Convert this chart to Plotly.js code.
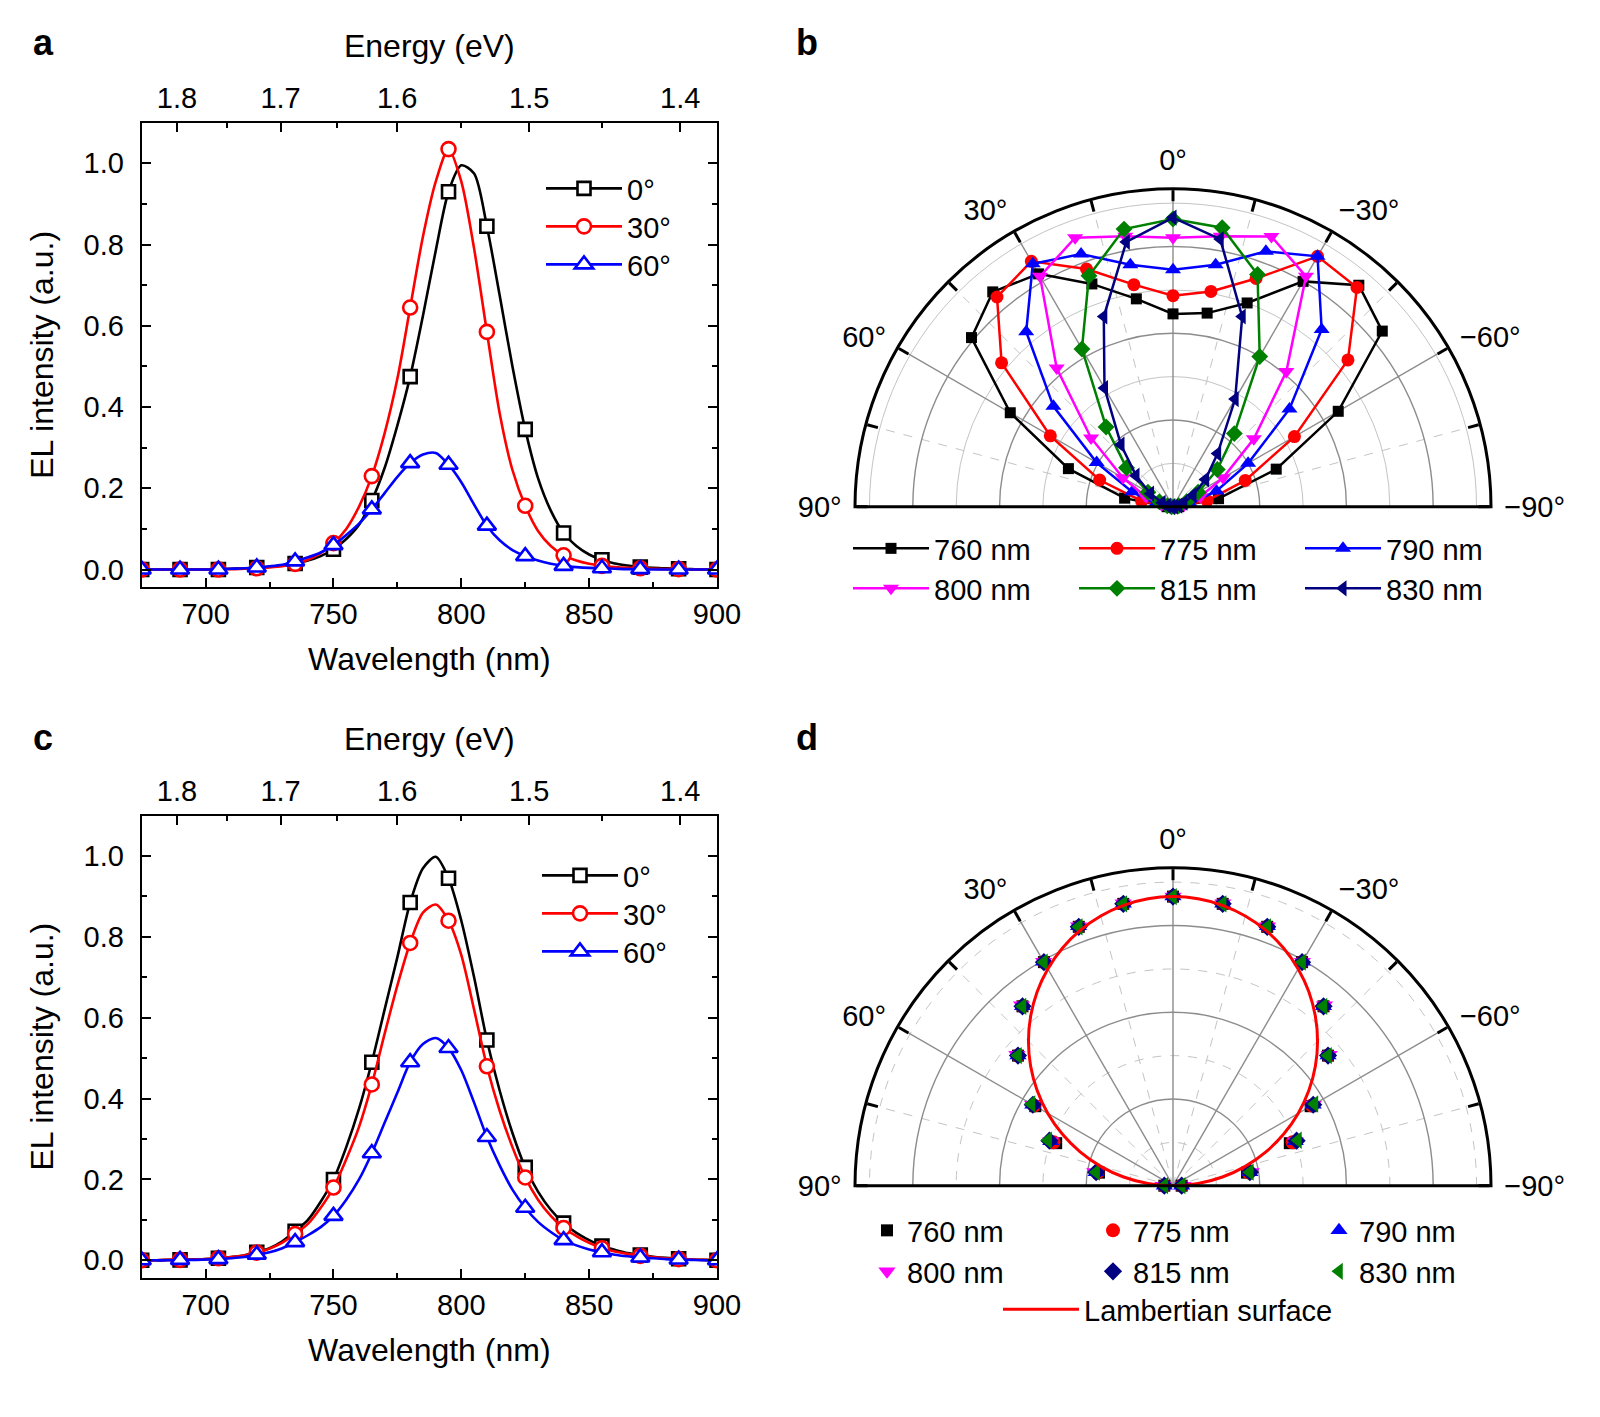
<!DOCTYPE html>
<html><head><meta charset="utf-8">
<script src="https://cdn.plot.ly/plotly-3.0.1.min.js"></script>
<style>html,body{margin:0;padding:0;background:#fff;}#chart{width:1600px;height:1417px;}</style>
</head><body><div id="chart"></div>
<script>
// ---------------- DATA ----------------
const wlLine = [675,680,685,690,695,700,705,710,715,720,725,730,735,740,745,750,755,760,765,770,775,780,785,790,795,800,805,810,815,820,825,830,835,840,845,850,855,860,865,870,875,880,885,890,895,900];
const wlMark = [675,690,705,720,735,750,765,780,795,810,825,840,855,870,885,900];
const angleNames = ['0°','30°','60°'];

// panel a spectra (continuous curves, 5 nm)
const a0Line  = [0,0,0,0,0,0,0.001,0.002,0.003,0.005,0.007,0.01, 0.015,0.022,0.033,0.05,0.075,0.11,0.17,0.25,0.355,0.475,0.625,0.785, 0.93,0.995,0.975,0.845,0.675,0.5,0.345,0.225,0.145,0.09,0.058,0.037, 0.024,0.015,0.01,0.006,0.004,0.003,0.002,0.001,0,0];
const a30Line = [0,0,0,0,0,0,0.001,0.001,0.002,0.003,0.005,0.008, 0.014,0.024,0.04,0.065,0.1,0.155,0.23,0.335,0.47,0.645,0.82,0.955, 1.035,0.955,0.79,0.585,0.385,0.245,0.157,0.095,0.058,0.035,0.022,0.014, 0.009,0.006,0.004,0.003,0.002,0.001,0.001,0,0,0];
const a60Line = [0,0,0,0,0,0,0.001,0.002,0.003,0.005,0.008,0.012, 0.02,0.03,0.042,0.06,0.085,0.113,0.148,0.188,0.228,0.262,0.283,0.287, 0.258,0.215,0.16,0.108,0.072,0.048,0.033,0.022,0.014,0.009,0.006,0.004, 0.003,0.002,0.001,0.001,0,0,0,0,0,0];
// panel a markers (15 nm)
const a0Mark  = [0,0,0,0.005,0.015,0.05,0.17,0.475,0.93,0.845,0.345,0.09,0.024,0.006,0.002,0];
const a30Mark = [0,0,0,0.003,0.014,0.065,0.23,0.645,1.035,0.585,0.157,0.035,0.009,0.003,0.001,0];
const a60Mark = [0,0,0,0.005,0.02,0.06,0.148,0.262,0.258,0.108,0.033,0.009,0.003,0.001,0,0];

// panel c spectra
const c0Line  = [0,0,0.001,0.001,0.002,0.003,0.005,0.008,0.012,0.02,0.03,0.047, 0.072,0.1,0.145,0.2,0.28,0.375,0.49,0.62,0.75,0.885,0.97,0.998, 0.945,0.84,0.7,0.545,0.42,0.315,0.23,0.17,0.125,0.092,0.068,0.05, 0.035,0.026,0.018,0.013,0.009,0.006,0.004,0.002,0.001,0];
const c30Line = [0,0,0.001,0.001,0.002,0.003,0.005,0.008,0.012,0.019,0.029,0.044, 0.065,0.09,0.13,0.18,0.25,0.33,0.435,0.56,0.68,0.785,0.86,0.88, 0.84,0.755,0.62,0.48,0.37,0.28,0.205,0.15,0.11,0.08,0.06,0.043, 0.03,0.022,0.016,0.011,0.008,0.005,0.003,0.002,0.001,0];
const c60Line = [0,0,0,0.001,0.001,0.002,0.003,0.005,0.008,0.014,0.02,0.03, 0.045,0.062,0.082,0.11,0.15,0.2,0.265,0.34,0.415,0.49,0.535,0.55, 0.525,0.47,0.39,0.305,0.235,0.175,0.13,0.095,0.07,0.05,0.037,0.027, 0.02,0.014,0.01,0.007,0.005,0.003,0.002,0.001,0,0];
const c0Mark  = [0,0.001,0.005,0.02,0.072,0.2,0.49,0.885,0.945,0.545,0.23,0.092,0.035,0.013,0.004,0];
const c30Mark = [0,0.001,0.005,0.019,0.065,0.18,0.435,0.785,0.84,0.48,0.205,0.08,0.03,0.011,0.003,0];
const c60Mark = [0,0.001,0.003,0.014,0.045,0.11,0.265,0.49,0.525,0.305,0.13,0.05,0.02,0.007,0.002,0];

// top axis energies (eV)
const energyTicks = [1.8,1.7,1.6,1.5,1.4];
const energyMinor = [1.75,1.65,1.55,1.45];

// polar panels: emission angle (deg) and normalized intensity
const polarAngles = [-90,-80,-70,-60,-50,-40,-30,-20,-10,0,10,20,30,40,50,60,70,80,90];
const wlNames = ['760 nm','775 nm','790 nm','800 nm','815 nm','830 nm'];
const b760 = [0.02,0.16,0.38,0.66,0.945,1.0,0.90,0.75,0.68,0.667,0.73,0.82,0.93,0.97,0.91,0.65,0.385,0.17,0.02];
const b775 = [0.01,0.12,0.266,0.485,0.79,0.99,1.0,0.84,0.756,0.73,0.78,0.875,0.98,0.947,0.774,0.49,0.27,0.11,0.01];
const b790 = [0.01,0.06,0.16,0.30,0.526,0.80,1.0,0.94,0.85,0.82,0.85,0.93,0.97,0.79,0.54,0.305,0.15,0.06,0.01];
const b800 = [0.01,0.04,0.10,0.20,0.365,0.61,0.92,0.995,0.95,0.93,0.95,0.99,0.92,0.626,0.37,0.20,0.10,0.04,0.01];
const b815 = [0.005,0.02,0.05,0.10,0.20,0.33,0.60,0.855,0.98,0.995,0.975,0.85,0.63,0.36,0.21,0.10,0.05,0.02,0.005];
const b830 = [0.005,0.02,0.04,0.08,0.147,0.24,0.43,0.70,0.94,1.0,0.93,0.70,0.474,0.28,0.167,0.09,0.04,0.02,0.005];

const d760 = [0.03,0.26,0.43,0.55,0.70,0.81,0.893,0.953,0.99,1.0,0.99,0.953,0.893,0.81,0.70,0.55,0.43,0.26,0.03];
const d775 = [0.03,0.265,0.44,0.555,0.70,0.81,0.893,0.953,0.99,1.0,0.99,0.953,0.893,0.81,0.70,0.555,0.44,0.265,0.03];
const d790 = [0.03,0.27,0.45,0.56,0.70,0.81,0.895,0.955,0.99,1.0,0.99,0.955,0.895,0.81,0.70,0.56,0.45,0.27,0.03];
const d800 = [0.035,0.275,0.45,0.56,0.705,0.815,0.895,0.955,0.992,1.0,0.992,0.955,0.895,0.815,0.705,0.56,0.45,0.275,0.035];
const d815 = [0.03,0.27,0.455,0.56,0.70,0.81,0.893,0.953,0.99,1.0,0.99,0.953,0.893,0.81,0.70,0.56,0.455,0.27,0.03];
const d830 = [0.03,0.27,0.46,0.565,0.70,0.81,0.893,0.953,0.99,1.0,0.99,0.953,0.893,0.81,0.70,0.565,0.46,0.27,0.03];
const lambTheta = [-90,-85,-80,-75,-70,-65,-60,-55,-50,-45,-40,-35,-30,-25,-20,-15,-10,-5,0,5,10,15,20,25,30,35,40,45,50,55,60,65,70,75,80,85,90];
const lambR = [0,0.0872,0.1736,0.2588,0.342,0.4226,0.5,0.5736,0.6428,0.7071,0.766,0.8192,0.866,0.9063,0.9397,0.9659,0.9848,0.9962,1,0.9962,0.9848,0.9659,0.9397,0.9063,0.866,0.8192,0.766,0.7071,0.6428,0.5736,0.5,0.4226,0.342,0.2588,0.1736,0.0872,0];

const angAllTicks = [-90,-75,-60,-45,-30,-15,0,15,30,45,60,75,90];
const angLabelVals = [-90,-60,-30,0,30,60,90];
const angLabelText = ['\u221290°','\u221260°','\u221230°','0°','30°','60°','90°'];

// ---------------- STYLE ----------------
const W = 1600, H = 1417;
const px = v => v / W, py = v => (H - v) / H;
const FONT = 'Liberation Sans, Arial, Helvetica, sans-serif';
const HC = 1239.84;
const tickFont = {family: FONT, size: 29, color: '#000'};
const titleFont = {family: FONT, size: 32, color: '#000'};

const specColors = ['#000000', '#ff0000', '#0000ff'];
const specSymbols = ['square', 'circle', 'triangle-up'];
const specSizes = [13, 14, 16];

const traces = [];
function addSpectra(xa, ya, lines, marks, legendIds) {
  for (let i = 0; i < 3; i++) {
    traces.push({x: wlLine, y: lines[i], xaxis: xa, yaxis: ya, mode: 'lines', showlegend: false, hoverinfo: 'skip',
      line: {color: specColors[i], width: 2.6, shape: 'spline', smoothing: 0.8}});
    traces.push({x: wlMark, y: marks[i], xaxis: xa, yaxis: ya, mode: 'markers', showlegend: false, hoverinfo: 'skip',
      marker: {symbol: specSymbols[i], size: specSizes[i], color: '#ffffff', line: {color: specColors[i], width: 2.6}}});
  }
  for (let i = 0; i < 3; i++) {
    traces.push({x: [null], y: [null], xaxis: xa, yaxis: ya, mode: 'lines+markers', name: angleNames[i], legend: legendIds[i],
      line: {color: specColors[i], width: 2.6},
      marker: {symbol: specSymbols[i], size: specSizes[i], color: '#ffffff', line: {color: specColors[i], width: 2.6}}});
  }
}
addSpectra('x', 'y', [a0Line, a30Line, a60Line], [a0Mark, a30Mark, a60Mark], ['legend', 'legend2', 'legend3']);
addSpectra('x3', 'y3', [c0Line, c30Line, c60Line], [c0Mark, c30Mark, c60Mark], ['legend4', 'legend5', 'legend6']);
traces.push({x: [null], y: [null], xaxis: 'x2', yaxis: 'y', showlegend: false, hoverinfo: 'skip'});
traces.push({x: [null], y: [null], xaxis: 'x4', yaxis: 'y3', showlegend: false, hoverinfo: 'skip'});

// polar grid layers need a trace each
['polar', 'polar2', 'polar4', 'polar5'].forEach(s => traces.push({type: 'scatterpolar', subplot: s, r: [0], theta: [0],
  mode: 'markers', marker: {opacity: 0, size: 1}, showlegend: false, hoverinfo: 'skip'}));

const bSeries = [b760, b775, b790, b800, b815, b830];
const bColors = ['#000000', '#ff0000', '#0000ff', '#ff00ff', '#008000', '#000080'];
const bSymbols = ['square', 'circle', 'triangle-up', 'triangle-down', 'diamond', 'triangle-left'];
const bSizes = [11, 13, 14, 14, 13, 14];
bSeries.forEach((r, i) => traces.push({type: 'scatterpolar', subplot: 'polar3', r: r, theta: polarAngles,
  mode: 'lines+markers', name: wlNames[i], legend: i < 3 ? 'legend7' : 'legend8', hoverinfo: 'skip',
  line: {color: bColors[i], width: 2.5}, marker: {symbol: bSymbols[i], size: bSizes[i], color: bColors[i]}}));

const dSeries = [d760, d775, d790, d800, d815, d830];
const dColors = ['#000000', '#ff0000', '#0000ff', '#ff00ff', '#000080', '#008000'];
dSeries.forEach((r, i) => traces.push({type: 'scatterpolar', subplot: 'polar6', r: r, theta: polarAngles,
  mode: 'markers', name: wlNames[i], legend: i < 3 ? 'legend9' : 'legend10', hoverinfo: 'skip',
  marker: {symbol: bSymbols[i], size: bSizes[i] + 1, color: dColors[i]}}));
traces.push({type: 'scatterpolar', subplot: 'polar6', r: lambR, theta: lambTheta, mode: 'lines',
  name: 'Lambertian surface', legend: 'legend11', hoverinfo: 'skip', line: {color: '#ff0000', width: 3, shape: 'spline'}});

// ---------------- LAYOUT ----------------
const axLine = {showline: true, linewidth: 2, linecolor: '#000', showgrid: false, zeroline: false,
  ticks: 'inside', ticklen: 9, tickwidth: 2, tickcolor: '#000', tickfont: tickFont};
function bottomX(dom, anchor) {
  return Object.assign({}, axLine, {domain: dom, anchor: anchor, range: [675, 900], tickmode: 'linear', tick0: 700, dtick: 50,
    ticklabelstandoff: 0,
    minor: {tick0: 675, dtick: 25, ticks: 'inside', ticklen: 5, tickwidth: 2, tickcolor: '#000', showgrid: false},
    title: {text: 'Wavelength (nm)', font: titleFont, standoff: 19}});
}
function topX(over, anchor) {
  return Object.assign({}, axLine, {overlaying: over, anchor: anchor, side: 'top', range: [675, 900],
    tickmode: 'array', tickvals: energyTicks.map(e => HC / e), ticktext: energyTicks.map(e => e.toFixed(1)),
    ticklabelstandoff: 1,
    minor: {tickmode: 'array', tickvals: energyMinor.map(e => HC / e), ticks: 'inside', ticklen: 5, tickwidth: 2, tickcolor: '#000', showgrid: false},
    title: {text: 'Energy (eV)', font: titleFont, standoff: 15}});
}
function leftY(dom, anchor) {
  return Object.assign({}, axLine, {domain: dom, anchor: anchor, range: [-0.043, 1.1], tick0: 0, dtick: 0.2, tickformat: '.1f',
    mirror: 'ticks', ticklabelstandoff: 10,
    minor: {tick0: 0, dtick: 0.1, ticks: 'inside', ticklen: 5, tickwidth: 2, tickcolor: '#000', showgrid: false},
    title: {text: 'EL intensity (a.u.)', font: titleFont, standoff: 20}});
}

const noAx = {showticklabels: false, ticks: '', showline: false};
function polarLayers(xdom, ydom, minorDash) {
  const common = {domain: {x: xdom, y: ydom}, sector: [0, 180]};
  return [
    Object.assign({}, common, {bgcolor: '#ffffff',
      radialaxis: Object.assign({}, noAx, {range: [0, 1.1], tickvals: [0.15, 0.45, 0.75, 1.05], showgrid: true, gridcolor: '#c4c4c4', gridwidth: 1, griddash: minorDash}),
      angularaxis: Object.assign({}, noAx, {rotation: 90, direction: 'counterclockwise', tickvals: [-75, -45, -15, 15, 45, 75], showgrid: true, gridcolor: '#c4c4c4', gridwidth: 1, griddash: 'dash'})}),
    Object.assign({}, common, {bgcolor: 'rgba(0,0,0,0)',
      radialaxis: Object.assign({}, noAx, {range: [0, 1.1], tickvals: [0.3, 0.6, 0.9], showgrid: true, gridcolor: '#8c8c8c', gridwidth: 1.4}),
      angularaxis: {rotation: 90, direction: 'counterclockwise', tickmode: 'array', tickvals: angLabelVals, ticktext: angLabelText,
        showticklabels: true, tickfont: tickFont, ticks: 'outside', ticklen: 7, tickcolor: 'rgba(0,0,0,0)', showline: false,
        showgrid: true, gridcolor: '#8c8c8c', gridwidth: 1.4}}),
    Object.assign({}, common, {bgcolor: 'rgba(0,0,0,0)',
      radialaxis: Object.assign({}, noAx, {range: [0, 1.1], showgrid: false}),
      angularaxis: {rotation: 90, direction: 'counterclockwise', tickmode: 'array', tickvals: angAllTicks, showticklabels: false,
        ticks: 'inside', ticklen: 11, tickwidth: 3, tickcolor: '#000', showline: true, linecolor: '#000', linewidth: 3,
        showgrid: false}})
  ];
}
const bx = [px(855), px(1491)];
const pb = polarLayers(bx, [py(506.7), py(188.7)], 'solid');
const pd = polarLayers(bx, [py(1185.7), py(867.7)], 'dash');

const legFont = {family: FONT, size: 29, color: '#000'};
function leg(x, y, extra) {
  return Object.assign({x: px(x), y: py(y), xanchor: 'left', yanchor: 'top', font: legFont, bgcolor: 'rgba(0,0,0,0)', borderwidth: 0}, extra);
}

function letter(t, x, y) {
  return {text: '<b>' + t + '</b>', x: px(x), y: py(y), xref: 'paper', yref: 'paper', xanchor: 'center', yanchor: 'middle',
    showarrow: false, font: {family: FONT, size: 36, color: '#000'}};
}

const layout = {
  width: W, height: H, margin: {l: 0, r: 0, t: 0, b: 0}, paper_bgcolor: '#fff', plot_bgcolor: 'rgba(0,0,0,0)',
  font: {family: FONT, size: 29, color: '#000'}, dragmode: false,
  xaxis: bottomX([px(141.7), px(717)], 'y'),
  xaxis2: topX('x', 'y'),
  yaxis: leftY([py(587), py(122.7)], 'x'),
  xaxis3: bottomX([px(141.7), px(717)], 'y3'),
  xaxis4: topX('x3', 'y3'),
  yaxis3: leftY([py(1277.7), py(815.6)], 'x3'),
  polar: pb[0], polar2: pb[1], polar3: pb[2],
  polar4: pd[0], polar5: pd[1], polar6: pd[2],
  legend:  leg(541, 163, {itemwidth: 76}),
  legend2: leg(541, 201, {itemwidth: 76}),
  legend3: leg(541, 239, {itemwidth: 76}),
  legend4: leg(537, 850, {itemwidth: 76}),
  legend5: leg(537, 888, {itemwidth: 76}),
  legend6: leg(537, 926, {itemwidth: 76}),
  legend7: leg(848, 523, {orientation: 'h', itemwidth: 76, entrywidth: 135}),
  legend8: leg(848, 563, {orientation: 'h', itemwidth: 76, entrywidth: 135}),
  legend9: leg(867, 1205, {orientation: 'h', itemwidth: 30, entrywidth: 181}),
  legend10: leg(867, 1246, {orientation: 'h', itemwidth: 30, entrywidth: 181}),
  legend11: leg(998, 1284, {orientation: 'h', itemwidth: 76}),
  annotations: [letter('a', 43, 42), letter('b', 807, 42), letter('c', 43, 738), letter('d', 807, 738)]
};

Plotly.newPlot('chart', traces, layout, {displayModeBar: false, staticPlot: true});
</script></body></html>
